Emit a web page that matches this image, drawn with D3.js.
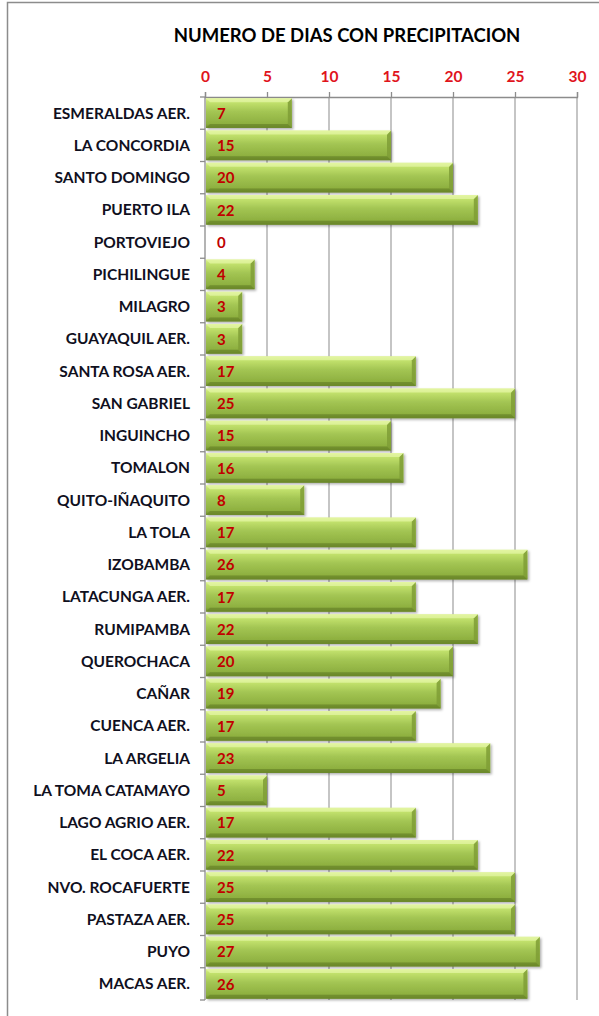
<!DOCTYPE html>
<html>
<head>
<meta charset="utf-8">
<script src="https://cdn.jsdelivr.net/npm/d3@7"></script>
<style>
  body { margin: 0; background: #fff; }
  svg { display: block; }
</style>
</head>
<body>
<div id="chart"></div>
<script>
// ── Data ─────────────────────────────────────────────
const stations = [
    'ESMERALDAS AER.', 'LA CONCORDIA', 'SANTO DOMINGO', 'PUERTO ILA', 'PORTOVIEJO',
    'PICHILINGUE', 'MILAGRO', 'GUAYAQUIL AER.', 'SANTA ROSA AER.', 'SAN GABRIEL',
    'INGUINCHO', 'TOMALON', 'QUITO-IÑAQUITO', 'LA TOLA', 'IZOBAMBA',
    'LATACUNGA AER.', 'RUMIPAMBA', 'QUEROCHACA', 'CAÑAR', 'CUENCA AER.',
    'LA ARGELIA', 'LA TOMA CATAMAYO', 'LAGO AGRIO AER.', 'EL COCA AER.', 'NVO. ROCAFUERTE',
    'PASTAZA AER.', 'PUYO', 'MACAS AER.'
];
const days = [7, 15, 20, 22, 0, 4, 3, 3, 17, 25, 15, 16, 8, 17, 26, 17, 22, 20, 19, 17, 23, 5, 17, 22, 25, 25, 27, 26];
const xTicks = [0, 5, 10, 15, 20, 25, 30];
const title = 'NUMERO DE DIAS CON PRECIPITACION';

const W = 599, H = 1016;
const plot = { left: 205, right: 577, top: 97, bottom: 1000 };
const font = 'Lato, "Open Sans", sans-serif';

const svg = d3.select('#chart').append('svg')
    .attr('width', W)
    .attr('height', H);

// Bar gradient + shadow
const defs = svg.append('defs');
const grad = defs.append('linearGradient')
    .attr('id', 'bar-grad')
    .attr('x1', 0).attr('y1', 0).attr('x2', 0).attr('y2', 1);
[['0%', '#dcf291'], ['12%', '#c4e36e'], ['45%', '#a3c553'], ['85%', '#8eb040'], ['100%', '#6d8a2c']]
    .forEach(([o, c]) => grad.append('stop').attr('offset', o).attr('stop-color', c));

const shadow = defs.append('filter')
    .attr('id', 'bar-shadow')
    .attr('x', '-5%').attr('y', '-20%')
    .attr('width', '115%').attr('height', '150%');
shadow.append('feDropShadow')
    .attr('dx', 1.5).attr('dy', 1.5)
    .attr('stdDeviation', 1.2)
    .attr('flood-color', '#000')
    .attr('flood-opacity', 0.3);

// Outer frame
svg.append('rect')
    .attr('x', 7.5).attr('y', 2.5)
    .attr('width', 700).attr('height', 1100)
    .attr('fill', 'none')
    .attr('stroke', '#8c8c8c')
    .attr('stroke-width', 1.5);

// Scales
const x = d3.scaleLinear()
    .domain([0, 30])
    .range([plot.left, plot.right]);

const y = d3.scaleBand()
    .domain(stations)
    .range([plot.top, plot.bottom])
    .paddingInner(0.08)
    .paddingOuter(0.04);

// Title
svg.append('text')
    .attr('x', 347)
    .attr('y', 42)
    .attr('text-anchor', 'middle')
    .style('font-family', font)
    .style('font-weight', 'bold')
    .style('font-size', '18.5px')
    .style('fill', '#000')
    .text(title);

// Gridlines
svg.append('g')
    .selectAll('line')
    .data(xTicks.slice(1))
    .enter()
    .append('line')
    .attr('x1', d => x(d)).attr('x2', d => x(d))
    .attr('y1', plot.top).attr('y2', plot.bottom)
    .attr('stroke', '#a6a6a6')
    .attr('stroke-width', 1.3);

// Top axis
const xAxis = svg.append('g')
    .attr('transform', `translate(0,${plot.top})`)
    .call(d3.axisTop(x).tickValues(xTicks).tickSize(5).tickPadding(10));
xAxis.select('.domain').attr('stroke', '#8c8c8c').attr('stroke-width', 1.3);
xAxis.selectAll('.tick line').attr('stroke', '#8c8c8c').attr('stroke-width', 1.3);
xAxis.selectAll('.tick text')
    .style('font-family', font)
    .style('font-weight', 'bold')
    .style('font-size', '15.5px')
    .style('fill', '#e0141c');

// Left axis
const yAxis = svg.append('g');
yAxis.append('line')
    .attr('x1', plot.left).attr('x2', plot.left)
    .attr('y1', plot.top).attr('y2', plot.bottom)
    .attr('stroke', '#8c8c8c').attr('stroke-width', 1.3);
yAxis.selectAll('line.tk')
    .data(d3.range(stations.length + 1))
    .enter()
    .append('line')
    .attr('class', 'tk')
    .attr('x1', plot.left - 5).attr('x2', plot.left)
    .attr('y1', i => plot.top + i * (plot.bottom - plot.top) / stations.length)
    .attr('y2', i => plot.top + i * (plot.bottom - plot.top) / stations.length)
    .attr('stroke', '#8c8c8c').attr('stroke-width', 1.3);

yAxis.selectAll('text')
    .data(stations)
    .enter()
    .append('text')
    .attr('x', 190)
    .attr('y', d => y(d) + y.bandwidth() / 2)
    .attr('dy', '0.36em')
    .attr('text-anchor', 'end')
    .style('font-family', font)
    .style('font-weight', 'bold')
    .style('font-size', '15.5px')
    .style('fill', '#10101e')
    .text(d => d);

// Bars
const rows = stations.map((s, i) => ({ name: s, value: days[i] }));
const bars = svg.append('g')
    .selectAll('g')
    .data(rows.filter(d => d.value > 0))
    .enter()
    .append('g')
    .style('filter', 'url(#bar-shadow)');

bars.append('rect')
    .attr('x', x(0) + 1)
    .attr('y', d => y(d.name))
    .attr('width', d => x(d.value) - x(0) - 1)
    .attr('height', y.bandwidth())
    .attr('fill', 'url(#bar-grad)');

// Bevel on right end, top and bottom edges
const bev = 4;
bars.append('path')
    .attr('d', d => {
        const x1 = x(d.value), y0 = y(d.name), y1 = y0 + y.bandwidth();
        return `M${x1},${y0}L${x1},${y1}L${x1 - bev},${y1 - bev}L${x1 - bev},${y0 + bev}Z`;
    })
    .attr('fill', '#7f9d36')
    .attr('opacity', 0.85);
bars.append('path')
    .attr('d', d => {
        const x0 = x(0) + 1, x1 = x(d.value), y0 = y(d.name);
        return `M${x0},${y0}L${x1},${y0}L${x1 - bev},${y0 + bev}L${x0 + bev},${y0 + bev}Z`;
    })
    .attr('fill', '#e6f6a8')
    .attr('opacity', 0.7);
bars.append('path')
    .attr('d', d => {
        const x0 = x(0) + 1, x1 = x(d.value), y1 = y(d.name) + y.bandwidth();
        return `M${x0},${y1}L${x1},${y1}L${x1 - bev},${y1 - bev}L${x0 + bev},${y1 - bev}Z`;
    })
    .attr('fill', '#6a8629')
    .attr('opacity', 0.7);

// Value labels
svg.append('g')
    .selectAll('text')
    .data(rows)
    .enter()
    .append('text')
    .attr('x', x(0) + 12)
    .attr('y', d => y(d.name) + y.bandwidth() / 2)
    .attr('dy', '0.38em')
    .style('font-family', font)
    .style('font-weight', 'bold')
    .style('font-size', '15px')
    .style('fill', '#c00000')
    .text(d => d.value);
</script>
</body>
</html>
